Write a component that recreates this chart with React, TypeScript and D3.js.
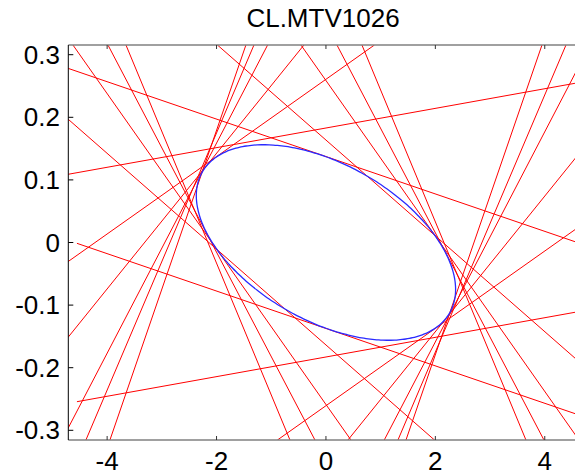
import React from "react";
import * as d3 from "d3";

const TITLE = "CL.MTV1026";
const xTicks = [-4, -2, 0, 2, 4];
const yTicks = [0.3, 0.2, 0.1, 0, -0.1, -0.2, -0.3];
const yTickLabels = ["0.3", "0.2", "0.1", "0", "-0.1", "-0.2", "-0.3"];

// red tangent lines: [x1, y1, x2, y2] in data units
const tangentLines: number[][] = [
  [-4.717, 0.1089, 4.552, 0.2543],
  [4.717, -0.1089, -4.552, -0.2543],
  [-4.717, 0.2783, 4.552, 0.0013],
  [4.717, -0.2783, -4.552, -0.0013],
  [-4.717, 0.1973, 1.984, -0.3155],
  [4.717, -0.1973, -1.984, 0.3155],
  [-4.717, -0.0307, 0.8867, 0.3155],
  [4.717, 0.0307, -0.8867, -0.3155],
  [-4.717, -0.1518, -0.4022, 0.3155],
  [4.717, 0.1518, 0.4022, -0.3155],
  [-4.625, 0.3155, 0.457, -0.3155],
  [4.625, -0.3155, -0.457, 0.3155],
  [-3.985, 0.3155, -0.201, -0.3155],
  [3.985, -0.3155, 0.201, 0.3155],
  [-3.656, 0.3155, -0.658, -0.3155],
  [3.656, -0.3155, 0.658, 0.3155],
  [-1.463, 0.3155, -3.949, -0.3155],
  [1.463, -0.3155, 3.949, 0.3155],
  [-1.316, 0.3155, -4.388, -0.3155],
  [1.316, -0.3155, 4.388, 0.3155],
  [-1.066, 0.3155, -4.826, -0.3155],
  [1.066, -0.3155, 4.826, 0.3155],
];

// blue ellipse: x extent, y at the x-extreme, sine amplitude of y
const ellipseSemiX = [2.37];
const ellipseYAtXMax = [-0.075];
const ellipseYSin = [0.137];

const W = 575;
const H = 475;
const LEFT = 68.3;
const RIGHT = 583.6;
const TOP = 45;
const BOTTOM = 440;

export default function App() {
  const x = d3.scaleLinear().domain([-4.71, 4.71]).range([LEFT, RIGHT]);
  const y = d3.scaleLinear().domain([-0.3155, 0.3155]).range([BOTTOM, TOP]);

  const ts = d3.range(0, 360, 2).map((d) => (d * Math.PI) / 180);
  const ellPts: [number, number][] = ts.map((t) => [
    ellipseSemiX[0] * Math.cos(t),
    ellipseYAtXMax[0] * Math.cos(t) + ellipseYSin[0] * Math.sin(t),
  ]);
  const ellPath = d3
    .line<[number, number]>()
    .x((d) => x(d[0]))
    .y((d) => y(d[1]))
    .curve(d3.curveCardinalClosed)(ellPts);

  const font = "'Liberation Sans', Arial, Helvetica, sans-serif";

  return (
    <svg
      width={W}
      height={H}
      style={{ position: "absolute", left: 0, top: 0, display: "block", background: "#fff" }}
    >
      <defs>
        <clipPath id="plotclip">
          <rect x={LEFT} y={TOP} width={RIGHT - LEFT} height={BOTTOM - TOP} />
        </clipPath>
      </defs>
      <rect x={0} y={0} width={W} height={H} fill="#fff" />
      <g clipPath="url(#plotclip)">
        {tangentLines.map((l, i) => (
          <line
            key={i}
            x1={x(l[0])}
            y1={y(l[1])}
            x2={x(l[2])}
            y2={y(l[3])}
            stroke="#ff0000"
            strokeWidth={1}
          />
        ))}
        <path d={ellPath || ""} fill="none" stroke="#2a2aff" strokeWidth={1.3} />
      </g>
      {/* axes box */}
      <line x1={LEFT} y1={TOP} x2={RIGHT} y2={TOP} stroke="#808080" strokeWidth={1.6} />
      <line x1={LEFT} y1={BOTTOM} x2={RIGHT} y2={BOTTOM} stroke="#808080" strokeWidth={1.6} />
      <line x1={LEFT} y1={TOP} x2={LEFT} y2={BOTTOM} stroke="#000" strokeWidth={1} />
      {xTicks.map((t) => (
        <g key={"xt" + t}>
          <line x1={x(t)} x2={x(t)} y1={BOTTOM} y2={BOTTOM - 4} stroke="#333" strokeWidth={1} />
          <line x1={x(t)} x2={x(t)} y1={TOP} y2={TOP + 4} stroke="#333" strokeWidth={1} />
          <text
            x={x(t)}
            y={470}
            textAnchor="middle"
            fontFamily={font}
            fontSize={26}
            fill="#000"
          >
            {t < 0 ? "-" + Math.abs(t) : String(t)}
          </text>
        </g>
      ))}
      {yTicks.map((t, i) => (
        <g key={"yt" + i}>
          <line x1={LEFT} x2={LEFT + 5} y1={y(t)} y2={y(t)} stroke="#000" strokeWidth={1} />
          <text
            x={60}
            y={y(t) + 9}
            textAnchor="end"
            fontFamily={font}
            fontSize={26}
            fill="#000"
          >
            {yTickLabels[i]}
          </text>
        </g>
      ))}
      <text x={323} y={27} textAnchor="middle" fontFamily={font} fontSize={26} fill="#000">
        {TITLE}
      </text>
    </svg>
  );
}
